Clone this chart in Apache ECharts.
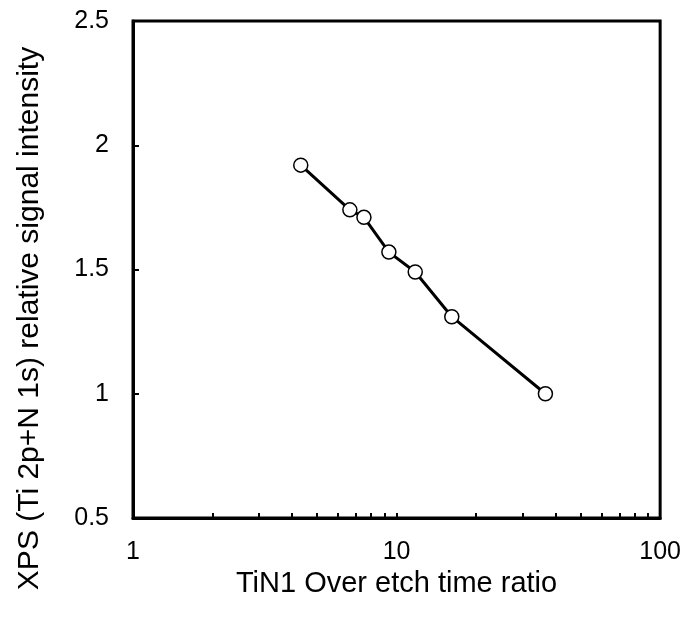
<!DOCTYPE html>
<html>
<head>
<meta charset="utf-8">
<script src="https://cdn.jsdelivr.net/npm/echarts@6/dist/echarts.min.js"></script>
<style>html,body{margin:0;padding:0;background:#fff}#c{width:684px;height:620px}</style>
</head>
<body>
<div id="c"></div>
<script>
const overEtchRatio = [4.33, 6.65, 7.52, 9.35, 11.77, 16.2, 36.7];
const relIntensity = [1.92, 1.74, 1.71, 1.57, 1.49, 1.31, 1.00];
const xTickValues = [1,2,3,4,5,6,7,8,9,10,20,30,40,50,60,70,80,90,100];
const xLabelValues = [1, 10, 100];
const xTitle = 'TiN1 Over etch time ratio';
const yTitle = 'XPS (Ti 2p+N 1s) relative signal intensity';

const font = 'Liberation Sans, Arial, sans-serif';
const chart = echarts.init(document.getElementById('c'), null, {renderer: 'canvas'});
chart.setOption({
  animation: false,
  backgroundColor: '#fff',
  grid: {left: 133, right: 23, top: 21, bottom: 102, show: true, borderColor: '#000', borderWidth: 3, backgroundColor: 'transparent'},
  xAxis: {
    type: 'log', logBase: 10, min: 1, max: 100,
    name: xTitle, nameLocation: 'middle', nameGap: 51,
    nameTextStyle: {fontFamily: font, fontSize: 29, color: '#000'},
    axisLine: {show: true, lineStyle: {color: '#000', width: 3}},
    axisTick: {show: true, inside: true, length: 5, lineStyle: {color: '#000', width: 2}, customValues: xTickValues},
    axisLabel: {fontFamily: font, fontSize: 25, color: '#000', margin: 22, customValues: xLabelValues, formatter: v => String(v)},
    splitLine: {show: false},
    minorTick: {show: false}
  },
  yAxis: {
    type: 'value', min: 0.5, max: 2.5, interval: 0.5,
    name: yTitle, nameLocation: 'middle', nameGap: 88,
    nameTextStyle: {fontFamily: font, fontSize: 30, color: '#000', padding: [0, 98, 0, 0]},
    axisLine: {show: true, lineStyle: {color: '#000', width: 3}},
    axisTick: {show: true, inside: true, length: 6, lineStyle: {color: '#000', width: 2}},
    axisLabel: {fontFamily: font, fontSize: 25, color: '#000', margin: 24, formatter: v => String(v)},
    splitLine: {show: false}
  },
  series: [{
    type: 'line',
    data: overEtchRatio.map((x, i) => [x, relIntensity[i]]),
    symbol: 'circle', symbolSize: 14,
    lineStyle: {color: '#000', width: 3},
    itemStyle: {color: '#fff', borderColor: '#000', borderWidth: 1.5},
    z: 3
  }]
});
</script>
</body>
</html>
